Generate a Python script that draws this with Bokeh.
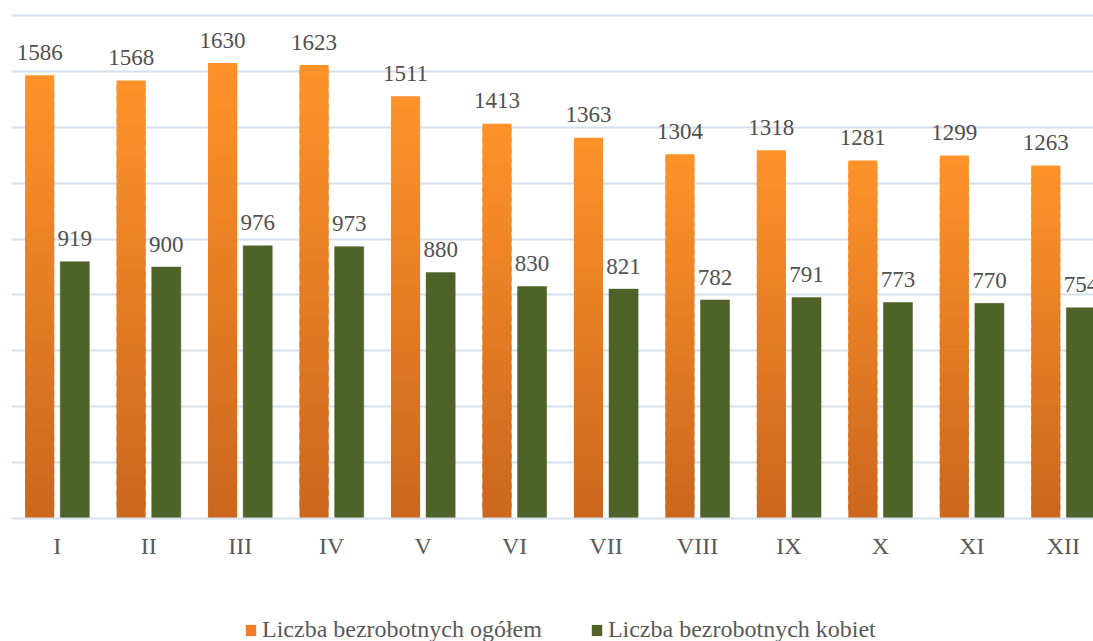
from bokeh.plotting import figure
from bokeh.layouts import column
from bokeh.models import (Range1d, FixedTicker, ColumnDataSource, Legend, LegendItem)
from bokeh.core.properties import value
from bokeh.embed import file_html
from bokeh.resources import INLINE

months = ["I", "II", "III", "IV", "V", "VI", "VII", "VIII", "IX", "X", "XI", "XII"]
total = [1586, 1568, 1630, 1623, 1511, 1413, 1363, 1304, 1318, 1281, 1299, 1263]
women = [919, 900, 976, 973, 880, 830, 821, 782, 791, 773, 770, 754]
series_names = ["Liczba bezrobotnych ogółem", "Liczba bezrobotnych kobiet"]
y_ticks = [0, 200, 400, 600, 800, 1000, 1200, 1400, 1600, 1800]

FONT = "Liberation Serif"
ORANGE_TOP = (255, 147, 42)
ORANGE_BOT = (204, 103, 30)
ORANGE_MID = "#EC7F26"
GREEN = "#4F6228"
GRID = "#D5DFEE"
OFF = 0.192
BW = 0.318

p = figure(width=1093, height=600, output_backend="svg", toolbar_location=None,
           x_range=Range1d(0, 11.83), y_range=Range1d(0, 1811),
           min_border_left=11, min_border_right=0, min_border_top=12, min_border_bottom=82)
p.outline_line_color = None
p.yaxis.visible = False
p.xgrid.visible = False
p.ygrid.ticker = FixedTicker(ticks=y_ticks)
p.ygrid.grid_line_color = GRID
p.ygrid.grid_line_width = 2

xc = [i + 0.5 for i in range(len(months))]

# orange bars with a vertical gradient (drawn as stacked slices of each bar)
N = 40
sx, sb, st, sc = [], [], [], []
for i, v in enumerate(total):
    for j in range(N):
        f = j / (N - 1)  # 0 bottom -> 1 top
        r = int(ORANGE_BOT[0] + (ORANGE_TOP[0] - ORANGE_BOT[0]) * f)
        g = int(ORANGE_BOT[1] + (ORANGE_TOP[1] - ORANGE_BOT[1]) * f)
        b = int(ORANGE_BOT[2] + (ORANGE_TOP[2] - ORANGE_BOT[2]) * f)
        sx.append(xc[i] - OFF)
        sb.append(v * j / N)
        st.append(min(v, v * (j + 1.6) / N))
        sc.append("#%02x%02x%02x" % (r, g, b))
osrc = ColumnDataSource(dict(x=sx, bottom=sb, top=st, color=sc))
p.vbar(x="x", bottom="bottom", top="top", width=BW, source=osrc,
       fill_color="color", line_color=None)

gsrc = ColumnDataSource(dict(x=[x + OFF for x in xc], top=women))
p.vbar(x="x", top="top", bottom=0, width=BW, source=gsrc,
       fill_color=GREEN, line_color=GREEN, line_width=0.5)

# data labels
p.text(x=[x - OFF for x in xc], y=total, text=[str(v) for v in total],
       text_font=value(FONT), text_font_size="23px", text_color="#505050",
       text_align="center", text_baseline="alphabetic", y_offset=-23)
p.text(x=[x + OFF for x in xc], y=women, text=[str(v) for v in women],
       text_font=value(FONT), text_font_size="23px", text_color="#505050",
       text_align="center", text_baseline="alphabetic", y_offset=-23)

ax = p.xaxis[0]
ax.ticker = FixedTicker(ticks=xc)
ax.major_label_overrides = {x: m for x, m in zip(xc, months)}
ax.major_label_text_font = FONT
ax.major_label_text_font_size = "24px"
ax.major_label_text_color = "#595959"
ax.major_label_standoff = 14
ax.major_tick_out = 0
ax.major_tick_in = 0
ax.major_tick_line_color = None
ax.minor_tick_line_color = None
ax.axis_line_color = GRID
ax.axis_line_width = 2

# legend strip below the chart
lg = figure(width=1093, height=41, output_backend="svg", toolbar_location=None,
            x_range=Range1d(0, 1), y_range=Range1d(0, 1),
            min_border_left=0, min_border_right=0, min_border_top=0, min_border_bottom=0)
lg.outline_line_color = None
lg.axis.visible = False
lg.grid.visible = False
l_or = lg.vbar(x=[0], top=[0], bottom=[0], width=0, fill_color=ORANGE_MID, line_color=None)
l_gr = lg.vbar(x=[0], top=[0], bottom=[0], width=0, fill_color=GREEN, line_color=None)
legend = Legend(items=[LegendItem(label=series_names[0], renderers=[l_or]),
                       LegendItem(label=series_names[1], renderers=[l_gr])],
                orientation="horizontal", location=(233, -2),
                label_text_font=FONT, label_text_font_size="24px",
                label_text_color="#595959", glyph_width=13, glyph_height=14,
                label_standoff=5, spacing=48, padding=0, margin=0,
                border_line_color=None, background_fill_alpha=0)
lg.add_layout(legend, "center")

open("out.html", "w").write(file_html(column(p, lg, spacing=0), INLINE))
